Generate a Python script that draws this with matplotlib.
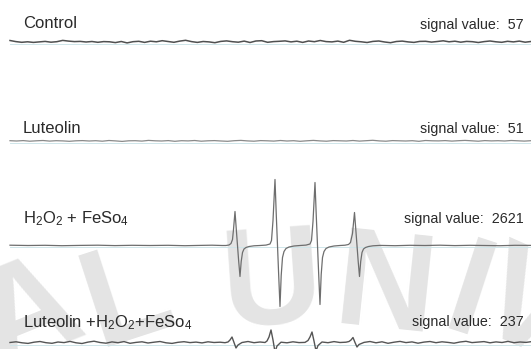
import numpy as np
import matplotlib
matplotlib.use("Agg")
import matplotlib.pyplot as plt

plt.rcParams['font.family'] = ['Liberation Sans', 'DejaVu Sans']
plt.rcParams['mathtext.fontset'] = 'custom'
plt.rcParams['mathtext.rm'] = 'Liberation Sans'
plt.rcParams['mathtext.default'] = 'regular'

# ---------------- data ----------------
labels = ["Control", "Luteolin", r"H$_2$O$_2$ + FeSo$_4$", r"Luteolin +H$_2$O$_2$+FeSo$_4$"]
signal_values = [57, 51, 2621, 237]

# baseline noise (arbitrary units, px-scale), read by eye
control_noise = [1.5, 0.4, -0.3, 0.2, -0.4, 0.1, 0.6, -0.2, 0.3, 1.6, 0.9, 0.4, 0.6, 0.0, 0.5, -0.3,
                 0.4, 0.2, -0.6, 0.5, -0.9, 0.3, 0.7, -0.4, 0.8, 0.2, 1.3, 0.5, -0.3, 0.9, 1.7, 0.4,
                 -0.4, 0.5, 0.1, -0.7, 0.6, 1.1, 0.3, -0.2, 0.9, -0.5, 1.0, 1.3, -0.3, 0.4, 0.7, 1.1,
                 0.1, 0.8, -0.4, 1.0, 0.3, 1.5, 0.4, 0.1, 0.9, -0.3, 1.7, 0.7, 0.2, -0.5, 0.6, 1.0,
                 0.0, -0.7, 0.5, 0.9, 0.1, -0.4, 0.6, 0.7, -0.1, 0.5, 1.2, 0.2, 0.8, -0.2, 0.6, 0.3,
                 -0.5, 0.4, 1.0, 0.2, -0.3, 0.7, 0.1, 0.9, -0.2, 0.5]
luteolin_noise = [0.3, 0.0, 0.4, -0.2, 0.2, 0.5, -0.1, 0.3, 0.1, -0.3, 0.2, 0.4, 0.0, 0.3, -0.2, 0.5,
                  0.1, -0.4, 0.2, 0.3, -0.1, 0.6, 0.2, 0.0, 0.4, -0.3, 0.3, 0.1, 0.5, -0.2, 0.2, 0.4,
                  0.0, -0.3, 0.3, 0.6, 0.1, -0.2, 0.4, 0.2, -0.1, 0.5, 0.0, 0.3, -0.3, 0.2, 0.6, 0.1,
                  -0.2, 0.4, 0.2, 0.0, 0.5, -0.1, 0.3, 0.7, 0.1, -0.2, 0.4, 0.2, 0.0, 0.3, -0.3, 0.5,
                  0.2, 0.1, 0.4, -0.1, 0.3, 0.6, 0.2, -0.2, 0.4, 0.1, 0.3, 0.0, 0.5, 0.2, -0.1, 0.3]

# H2O2 + FeSO4 spectrum (x in px-scale field units, y signal)
h2o2_x = [10, 28, 45, 62, 80, 98, 115, 132, 150, 168, 185, 200, 212, 222,
          226, 229, 231, 232.5, 233.5, 235, 236.3, 237.5, 238.7, 240, 241.2, 242.5, 244, 246, 249, 254,
          260, 266, 270, 271.5, 273, 275, 276.3, 277.5, 278.7, 280, 281.2, 282.5, 284, 286, 289, 294,
          300, 306, 310, 311.5, 313, 315, 316.3, 317.5, 318.7, 320, 321.2, 322.5, 324, 326, 329, 334,
          340, 345, 348.5, 350.5, 352.5, 354.5, 355.8, 357, 358.2, 359.5, 360.7, 362, 363.5, 365.5, 368.5, 373,
          380, 395, 410, 425, 440, 455, 470, 485, 500, 515, 531]
h2o2_y = [0.3, 0.0, 0.2, -0.2, 0.1, 0.3, -0.1, 0.2, 0.0, 0.2, -0.2, 0.1, 0.3, 0.0,
          0.0, 0.5, 2.0, 6.0, 16.0, 34.0, 16.0, 0.0, -16.0, -31.0, -16.0, -7.0, -3.5, -2.0, -1.0, -0.3,
          0.0, 0.4, 1.5, 5.0, 25.0, 66.0, 30.0, 0.0, -30.0, -61.0, -30.0, -12.0, -6.0, -3.0, -1.5, -0.5,
          0.0, 0.4, 1.5, 5.0, 24.0, 63.0, 29.0, 0.0, -29.0, -59.0, -29.0, -12.0, -6.0, -3.0, -1.5, -0.5,
          0.0, 0.3, 1.0, 3.0, 12.0, 33.0, 16.0, 0.0, -16.0, -31.0, -16.0, -7.0, -3.5, -2.0, -1.0, -0.3,
          0.1, -0.2, 0.2, 0.0, 0.3, -0.1, 0.2, 0.0, -0.2, 0.2, 0.1]

# Luteolin + H2O2 + FeSO4 spectrum
mix_x = [10, 16, 22, 28, 34, 40, 46, 52, 58, 64, 70, 76, 82, 88, 94, 100, 106, 112, 118, 124, 130,
         136, 142, 148, 154, 160, 166, 172, 178, 184, 190, 196, 202, 208, 214, 220, 225,
         228, 230, 232, 234, 236, 238, 242, 248, 254, 260, 265,
         267, 269, 271, 273, 275, 277, 281, 287, 293, 299, 305,
         308, 310, 312, 314, 316, 318, 322, 328, 334, 340, 346,
         349, 351, 353, 355, 357, 359, 364, 370, 376, 382, 388, 394, 400, 406, 412, 418, 424,
         430, 436, 442, 448, 454, 460, 466, 472, 478, 484, 490, 496, 502, 508, 514, 520, 526, 531]
mix_y = [0.5, 1.2, 0.2, -0.4, 0.8, 1.5, 0.3, -0.3, 1.0, 0.4, 1.6, 0.2, -0.5, 0.9, 1.8, 0.5, -0.2, 1.1,
         0.3, 1.4, -0.3, 0.6, 1.2, 0.0, 0.8, 1.5, 0.2, -0.4, 0.7, 1.3, 0.4, 0.9, 0.1, 1.2, 0.5, 0.8, 0.3,
         1.0, 3.0, 6.0, 0.5, -5.0, -2.0, 0.5, 1.5, 0.3, 1.0, 0.5,
         2.0, 6.0, 13.0, 3.0, -9.0, -3.0, 0.8, 0.2, 1.2, 0.4, 0.6,
         2.5, 6.0, 11.0, 2.0, -8.0, -2.5, 1.0, 0.3, 1.4, 0.5, 0.8,
         1.5, 3.0, 5.5, 0.5, -4.0, -1.5, 0.6, 1.5, 0.2, 1.2, -0.3, 0.8, 1.6, 0.4, 1.1, -0.2, 0.9,
         1.5, 0.3, 1.2, 0.6, -0.2, 1.0, 1.7, 0.4, 0.9, 1.4, 0.2, 1.1, 0.5, 1.6, 0.3, 1.0, 0.6, 1.3]

# ---------------- figure ----------------
W, H = 531, 349
fig = plt.figure(figsize=(W / 100, H / 100), dpi=100)
ax = fig.add_axes([0, 0, 1, 1])
ax.set_xlim(0, W)
ax.set_ylim(H, 0)
ax.axis('off')

# watermark
wm = [("A", 30, 318, 22), ("L", 128, 300, 18), ("U", 272, 288, 4),
      ("N", 385, 292, -6), ("I", 468, 300, -18), ("V", 525, 310, -24)]
for ch, x, y, rot in wm:
    ax.text(x, y, ch, fontsize=100, fontweight='bold', color='#e4e4e4',
            ha='center', va='center', rotation=rot, zorder=0)

baselines = [42, 141, 245.5, 343]
label_base = [28.5, 133, 223.3, 327]
value_base = [29.5, 133, 222.7, 326]

# faint reference baselines
for b in baselines:
    ax.plot([10, W], [b + 1.5, b + 1.5], color='#cfe6ea', lw=0.7, zorder=1)

# traces
cx = np.linspace(10, W, len(control_noise))
ax.plot(cx, baselines[0] - np.array(control_noise), color='#505050', lw=1.1, zorder=2)
lx = np.linspace(10, W, len(luteolin_noise))
ax.plot(lx, baselines[1] - np.array(luteolin_noise), color='#8a8a8a', lw=0.9, zorder=2)
ax.plot(h2o2_x, baselines[2] - np.array(h2o2_y), color='#6e6e6e', lw=0.9, zorder=2)
ax.plot(mix_x, baselines[3] - np.array(mix_y), color='#555555', lw=1.0, zorder=2)

# labels
for lab, val, lb, vb in zip(labels, signal_values, label_base, value_base):
    ax.text(23, lb, lab, fontsize=12, color='#2a2a2a', ha='left', va='baseline', zorder=3)
    ax.text(524, vb, f"signal value:  {val}", fontsize=10.3, color='#2a2a2a',
            ha='right', va='baseline', zorder=3)

fig.savefig("out.png", dpi=100)
